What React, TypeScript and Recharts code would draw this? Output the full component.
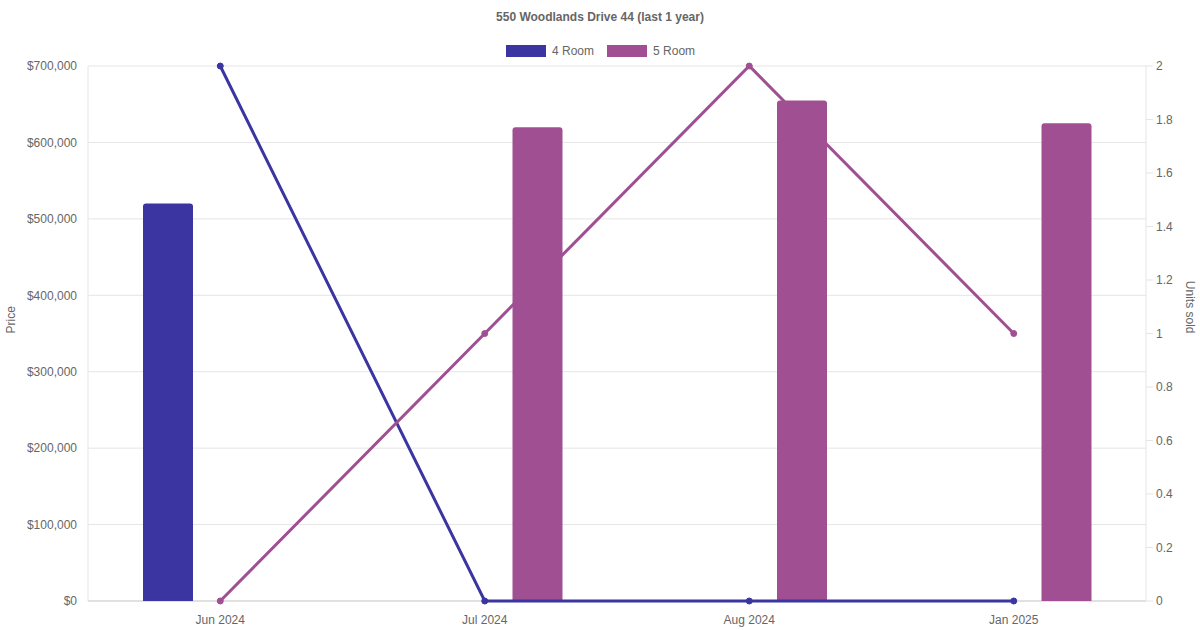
import {
  ComposedChart,
  Bar,
  Line,
  XAxis,
  YAxis,
  CartesianGrid,
} from "recharts";

// ── Data ──────────────────────────────────────────────────────────────────────

const MONTHS = ["Jun 2024", "Jul 2024", "Aug 2024", "Jan 2025"];
const PRICE_4ROOM: (number | null)[] = [520000, null, null, null];
const PRICE_5ROOM: (number | null)[] = [null, 620000, 655000, 625000];
const UNITS_4ROOM = [2, 0, 0, 0];
const UNITS_5ROOM = [0, 1, 2, 1];

const PRICE_TICKS = [0, 100000, 200000, 300000, 400000, 500000, 600000, 700000];
const UNIT_TICKS = [0, 0.2, 0.4, 0.6, 0.8, 1, 1.2, 1.4, 1.6, 1.8, 2];

const C4 = "#3a35a0";
const C5 = "#a05092";
const FONT = "'Liberation Sans', Arial, Helvetica, sans-serif";
const TXT = "#666";

const data = MONTHS.map((m, i) => ({
  month: m,
  p4: PRICE_4ROOM[i],
  p5: PRICE_5ROOM[i],
  u4: UNITS_4ROOM[i],
  u5: UNITS_5ROOM[i],
}));

const fmtPrice = (v: number) => "$" + v.toLocaleString("en-US");

function LegendItem({ color, label }: { color: string; label: string }) {
  return (
    <span style={{ display: "flex", alignItems: "center", gap: 6 }}>
      <span style={{ display: "inline-block", width: 40, height: 12, background: color }} />
      <span>{label}</span>
    </span>
  );
}

export default function App() {
  return (
    <div style={{ position: "absolute", left: 0, top: 0, width: 1200, height: 630, background: "#fff", fontFamily: FONT }}>
      {/* Title */}
      <div style={{ position: "absolute", top: 10, left: 0, width: 1200, textAlign: "center", fontSize: 12, fontWeight: 700, color: TXT }}>
        550 Woodlands Drive 44 (last 1 year)
      </div>

      {/* Legend */}
      <div style={{ position: "absolute", top: 44, left: 506, display: "flex", gap: 13, fontSize: 12, color: TXT }}>
        <LegendItem color={C4} label="4 Room" />
        <LegendItem color={C5} label="5 Room" />
      </div>

      <ComposedChart
        width={1200}
        height={630}
        data={data}
        margin={{ top: 66, right: 0, bottom: 0, left: 0 }}
        barGap={55}
        style={{ fontFamily: FONT }}
      >
        <CartesianGrid yAxisId="left" vertical={false} stroke="#e5e5e5" />
        {/* darker baseline, kept in the grid layer so the lines sit on top */}
        <CartesianGrid yAxisId="left" vertical={false} horizontalValues={[0]} stroke="#d0d0d0" />

        <XAxis
          dataKey="month"
          height={29}
          tick={{ fill: TXT, fontSize: 12 }}
          tickLine={false}
          axisLine={false}
          tickMargin={8}
        />

        <YAxis
          yAxisId="left"
          orientation="left"
          width={88}
          domain={[0, 700000]}
          ticks={PRICE_TICKS}
          tickFormatter={fmtPrice}
          tick={{ fill: TXT, fontSize: 12 }}
          tickLine={false}
          tickMargin={5}
          axisLine={{ stroke: "#e5e5e5" }}
          label={{ value: "Price", angle: -90, position: "insideLeft", offset: 11, fill: TXT, fontSize: 12 }}
        />

        <YAxis
          yAxisId="right"
          orientation="right"
          width={54}
          domain={[0, 2]}
          ticks={UNIT_TICKS}
          tick={{ fill: TXT, fontSize: 12 }}
          tickLine={{ stroke: "#e5e5e5" }}
          tickSize={7}
          tickMargin={3}
          axisLine={{ stroke: "#e5e5e5" }}
          label={{ value: "Units sold", angle: 90, position: "insideRight", offset: 10, fill: TXT, fontSize: 12 }}
        />

        <Bar yAxisId="left" dataKey="p4" name="4 Room" fill={C4} barSize={50} radius={[3, 3, 0, 0]} isAnimationActive={false} />
        <Bar yAxisId="left" dataKey="p5" name="5 Room" fill={C5} barSize={50} radius={[3, 3, 0, 0]} isAnimationActive={false} />

        <Line
          yAxisId="right"
          type="linear"
          dataKey="u4"
          stroke={C4}
          strokeWidth={3}
          dot={{ r: 3, fill: C4, stroke: C4, strokeWidth: 1 }}
          isAnimationActive={false}
        />
        <Line
          yAxisId="right"
          type="linear"
          dataKey="u5"
          stroke={C5}
          strokeWidth={3}
          dot={{ r: 3, fill: C5, stroke: C5, strokeWidth: 1 }}
          isAnimationActive={false}
        />
      </ComposedChart>
    </div>
  );
}
